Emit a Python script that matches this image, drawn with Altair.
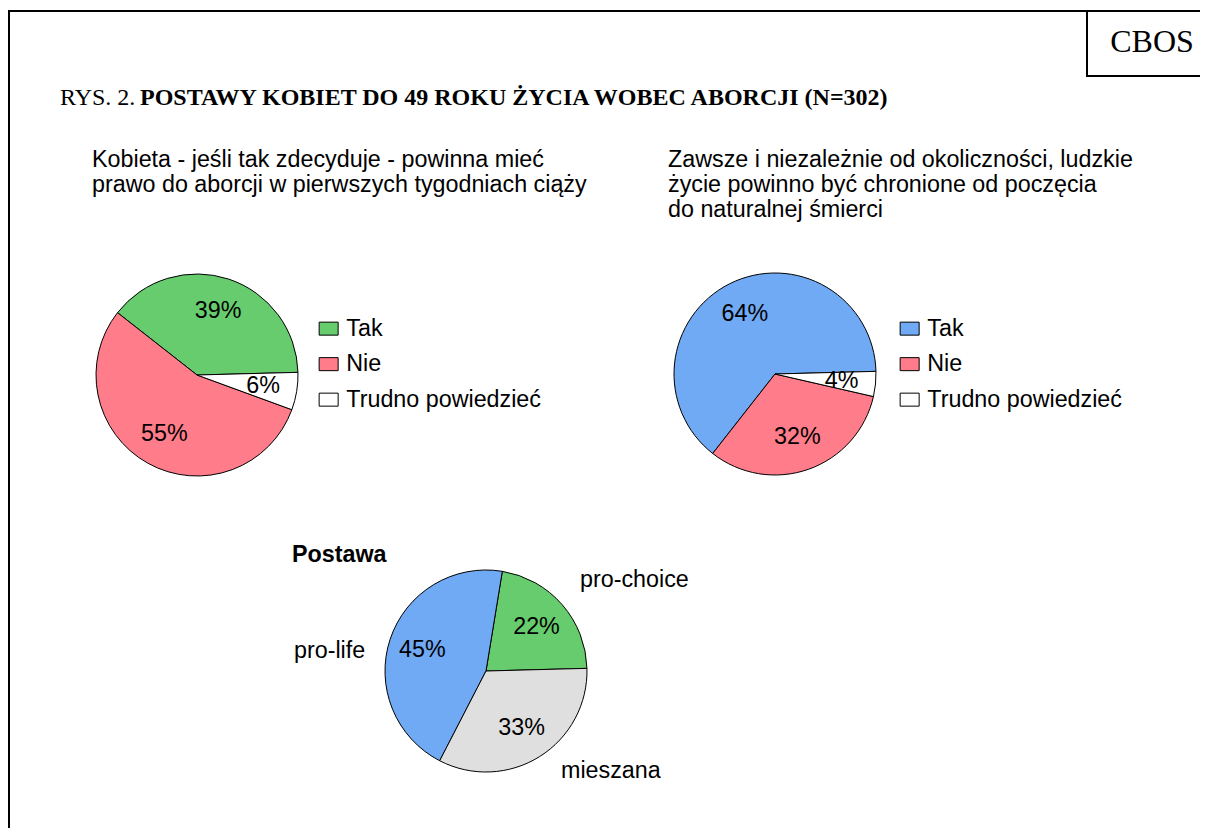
import math
import altair as alt
import pandas as pd

# ---- data ----
q1_categories = ["Tak", "Nie", "Trudno powiedzieć"]
q1_values = [39, 55, 6]
q1_order = [3, 2, 1]          # clockwise drawing order
q1_colors = ["#66CC6E", "#FF7C8A", "#FFFFFF"]

q2_categories = ["Tak", "Nie", "Trudno powiedzieć"]
q2_values = [64, 32, 4]
q2_order = [3, 2, 1]
q2_colors = ["#70AAF5", "#FF7C8A", "#FFFFFF"]

q3_categories = ["pro-choice", "pro-life", "mieszana"]
q3_values = [22, 45, 33]
q3_order = [3, 2, 1]
q3_colors = ["#66CC6E", "#70AAF5", "#DFDFDF"]

title_normal = "RYS. 2. "
title_bold = "POSTAWY KOBIET DO 49 ROKU ŻYCIA WOBEC ABORCJI (N=302)"
q1_title = ["Kobieta - jeśli tak zdecyduje - powinna mieć",
            "prawo do aborcji w pierwszych tygodniach ciąży"]
q2_title = ["Zawsze i niezależnie od okoliczności, ludzkie",
            "życie powinno być chronione od poczęcia",
            "do naturalnej śmierci"]
q3_title = "Postawa"

SANS = "Liberation Sans"
SERIF = "Liberation Serif"
FS = 23.3


def frame(cats, vals, order):
    return pd.DataFrame({
        "cat": cats,
        "value": vals,
        "ord": order,
        "label": [f"{v}%" for v in vals],
    })


START = math.radians(88.5)


def theta_enc():
    return alt.Theta("value:Q", stack=True,
                     scale=alt.Scale(domain=[0, 100], range=[START, START + 2 * math.pi]))


def pie(df, cx, cy, colors, legend):
    base = alt.Chart(df)
    arc = base.mark_arc(radius=101, stroke="black", strokeWidth=1).encode(
        theta=theta_enc(),
        color=alt.Color("cat:N", scale=alt.Scale(domain=list(df["cat"]), range=colors),
                        legend=legend),
        order=alt.Order("ord:Q"),
        x=alt.value(cx), y=alt.value(cy),
    )
    txt = base.mark_text(radius=67, fontSize=FS, font=SANS, color="black",
                         align="center", baseline="middle").encode(
        theta=theta_enc(),
        detail="cat:N",
        order=alt.Order("ord:Q"),
        text="label:N",
        x=alt.value(cx), y=alt.value(cy),
    )
    return [arc, txt]


def legend_at(lx, ly):
    return alt.Legend(orient="none", legendX=lx, legendY=ly, title=None,
                      labelFontSize=FS, labelFont=SANS, labelColor="black",
                      symbolType="M-1,-0.684H1V0.684H-1Z", symbolSize=361,
                      symbolStrokeColor="black", symbolStrokeWidth=1,
                      rowPadding=11.5, labelOffset=6, labelLimit=400)


one = alt.Chart(pd.DataFrame({"a": [0]}))


def text_at(txt, x, y, font=SANS, size=FS, weight="normal", align="left", line_height=25):
    return one.mark_text(text=txt, font=font, fontSize=size, fontWeight=weight,
                         align=align, baseline="alphabetic", color="black",
                         lineHeight=line_height).encode(x=alt.value(x), y=alt.value(y))


border = one.mark_rect(fill="white", fillOpacity=0, stroke="black", strokeWidth=2).encode(
    x=alt.value(1), y=alt.value(3), x2=alt.value(1400), y2=alt.value(1000))
cbos_box = one.mark_rect(fill="white", fillOpacity=0, stroke="black", strokeWidth=2).encode(
    x=alt.value(1079), y=alt.value(3), x2=alt.value(1400), y2=alt.value(68))

layers = [border, cbos_box,
          text_at("CBOS", 1144, 44, font=SERIF, size=32, align="center"),
          text_at(title_normal, 52, 97, font=SERIF, size=24),
          text_at(title_bold, 132, 97, font=SERIF, size=24, weight="bold"),
          text_at(q1_title, 84, 159),
          text_at(q2_title, 660, 159),
          text_at(q3_title, 284, 554, weight="bold"),
          text_at("pro-choice", 572, 579),
          text_at("pro-life", 286, 650),
          text_at("mieszana", 553, 770)]

layers += pie(frame(q1_categories, q1_values, q1_order), 189, 367, q1_colors, legend_at(309, 309))
layers += pie(frame(q2_categories, q2_values, q2_order), 767, 366, q2_colors, legend_at(890, 309))
layers += pie(frame(q3_categories, q3_values, q3_order), 478, 663, q3_colors, None)

chart = alt.layer(*layers).resolve_scale(
    color="independent", theta="independent"
).properties(
    width=1192, height=820, padding=0,
    autosize=alt.AutoSizeParams(type="none"),
).configure_view(strokeWidth=0)

chart.save("out.html", embed_options={"renderer": "svg", "actions": False})
